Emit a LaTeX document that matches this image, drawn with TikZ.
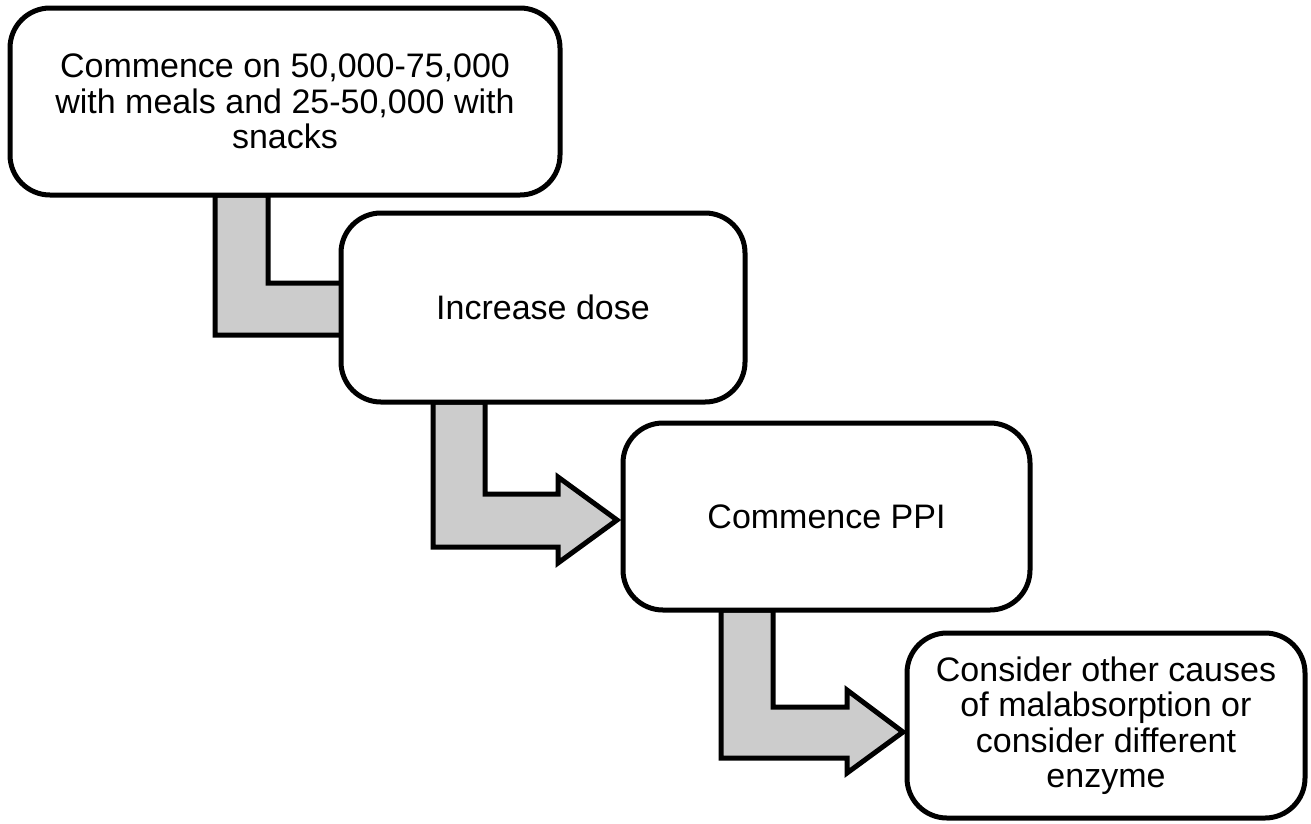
\documentclass[tikz,border=0pt]{standalone}
\usepackage{fontspec}
\setmainfont{Liberation Sans}
\definecolor{arrowgray}{RGB}{204,204,204}
\tikzset{
  stepbox/.style={draw=black, fill=white, line width=5pt, rounded corners=40pt,
    align=center, font=\fontsize{34}{35.5}\selectfont, inner sep=0pt},
  bentarrow/.style={draw=black, fill=arrowgray, line width=5pt, line join=miter}
}
\begin{document}
\begin{tikzpicture}[x=1pt,y=-1pt]
\useasboundingbox (0,0) rectangle (1311,823);

% bent block arrows (drawn first so the boxes sit on top)
\draw[bentarrow] (215,195) -- (268,195) -- (268,283) -- (352,283) -- (352,268)
  -- (405,309) -- (352,350) -- (352,335) -- (215,335) -- cycle;
\draw[bentarrow] (433,402) -- (485,402) -- (485,494) -- (558,494) -- (558,477)
  -- (617,520) -- (558,563) -- (558,547) -- (433,547) -- cycle;
\draw[bentarrow] (721,610) -- (773,610) -- (773,707) -- (847,707) -- (847,690)
  -- (903,732) -- (847,773) -- (847,758) -- (721,758) -- cycle;

% steps
\node[stepbox, minimum width=550pt, minimum height=187pt] (b1) at (285,101.5)
  {Commence on 50,000-75,000\\with meals and 25-50,000 with\\snacks};
\node[stepbox, minimum width=404pt, minimum height=189pt] (b2) at (543,307.5)
  {Increase dose};
\node[stepbox, minimum width=407pt, minimum height=187pt] (b3) at (826.5,516.5)
  {Commence PPI};
\node[stepbox, minimum width=398pt, minimum height=185pt] (b4) at (1106,725.5)
  {Consider other causes\\of malabsorption or\\consider different\\enzyme};
\end{tikzpicture}
\end{document}
